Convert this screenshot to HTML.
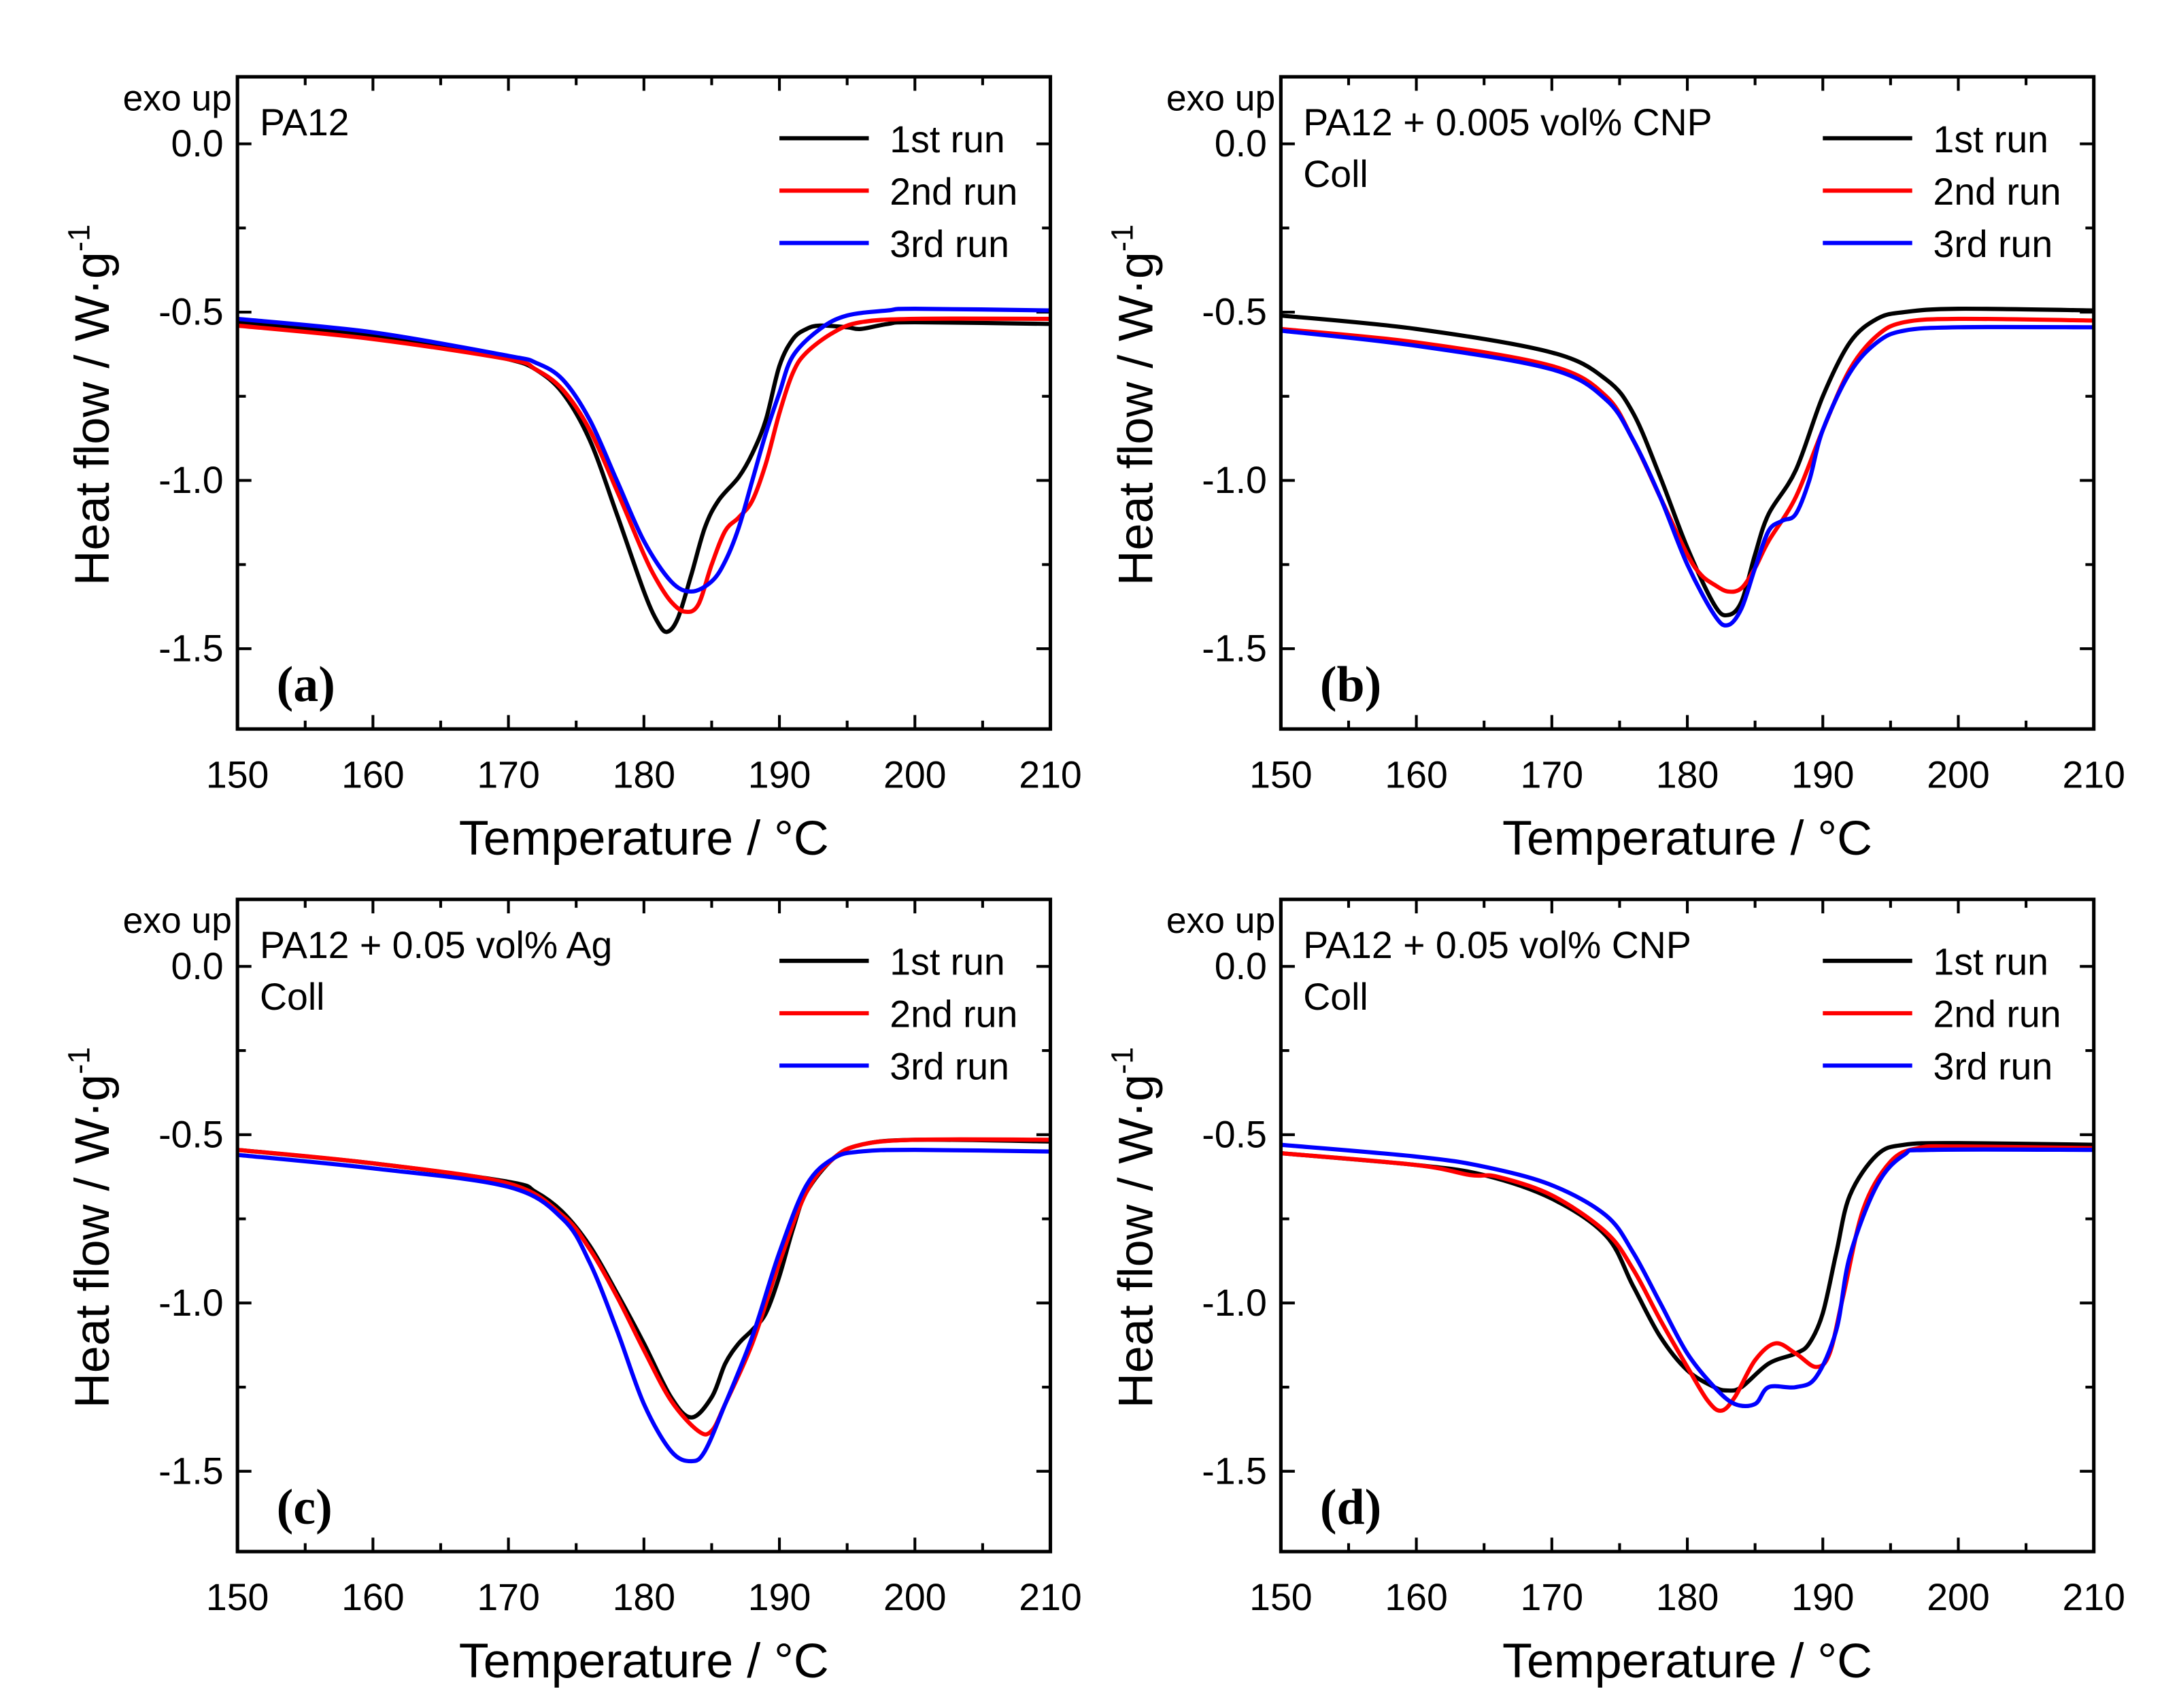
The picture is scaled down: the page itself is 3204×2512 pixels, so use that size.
<!DOCTYPE html>
<html><head><meta charset="utf-8"><style>
html,body{margin:0;padding:0;background:#fff}
svg{display:block}
text{font-family:"Liberation Sans",sans-serif;fill:#000}
</style></head><body>
<svg id="fig" width="3204" height="2512" viewBox="0 0 1560 1223" preserveAspectRatio="none" xmlns="http://www.w3.org/2000/svg"></svg>
<script>
const xTicks=[150,160,170,180,190,200,210];
const yTicks=[0.0,-0.5,-1.0,-1.5];
const yTickLabels=["0.0","-0.5","-1.0","-1.5"];
const runNames=["1st run","2nd run","3rd run"];
const runColors=["#000","#ff0000","#0000ff"];
const panelLetters=["a","b","c","d"];
const panelTitles=[["PA12"],["PA12 + 0.005 vol% CNP","Coll"],["PA12 + 0.05 vol% Ag","Coll"],["PA12 + 0.05 vol% CNP","Coll"]];
// panel a
const aT1=[150,160,165,170,172,174,176,178,180,181,181.7,182.5,183.5,184.5,185.5,187,188,189,190,191,192,193,195,196,198,200,210];
const aV1=[-0.53,-0.57,-0.6,-0.64,-0.67,-0.74,-0.88,-1.1,-1.33,-1.42,-1.45,-1.41,-1.28,-1.14,-1.06,-0.99,-0.92,-0.82,-0.66,-0.58,-0.55,-0.54,-0.545,-0.55,-0.535,-0.53,-0.535];
const aT2=[150,160,170,172,174,176,178,180,181,182,183,184,185,186,187,188,189,190,191,192,194,196,200,210];
const aV2=[-0.54,-0.58,-0.64,-0.67,-0.73,-0.85,-1.03,-1.22,-1.3,-1.36,-1.39,-1.37,-1.25,-1.15,-1.11,-1.06,-0.95,-0.8,-0.68,-0.62,-0.56,-0.53,-0.52,-0.52];
const aT3=[150,160,170,172,174,176,178,180,182,183.5,185,186,187,188,189,190,191,193,195,198,200,210];
const aV3=[-0.52,-0.56,-0.63,-0.65,-0.7,-0.82,-1.0,-1.18,-1.3,-1.33,-1.3,-1.24,-1.14,-1.0,-0.86,-0.74,-0.63,-0.55,-0.51,-0.495,-0.49,-0.495];
// panel b
const bT1=[150,160,170,174,176,178,180,182,183,184,185,186,188,190,192,194,196,200,210];
const bV1=[-0.51,-0.55,-0.62,-0.7,-0.8,-0.99,-1.2,-1.37,-1.4,-1.36,-1.22,-1.1,-0.97,-0.75,-0.59,-0.52,-0.5,-0.49,-0.495];
const bT2=[150,160,170,174,176,178,180,181,182,183,184,185,186,188,190,192,194,196,200,210];
const bV2=[-0.55,-0.59,-0.66,-0.75,-0.88,-1.05,-1.22,-1.28,-1.31,-1.33,-1.32,-1.26,-1.18,-1.05,-0.85,-0.67,-0.57,-0.53,-0.52,-0.525];
const bT3=[150,160,170,174,176,178,180,182,183,184,185,186,187,188,189,190,192,194,196,200,210];
const bV3=[-0.555,-0.6,-0.67,-0.76,-0.88,-1.05,-1.25,-1.4,-1.43,-1.38,-1.26,-1.15,-1.12,-1.1,-1.0,-0.85,-0.68,-0.59,-0.555,-0.545,-0.545];
// panel c
const cT1=[150,160,170,172,174,176,178,180,182,183.5,185,186,187,188,189,190,191,192,194,196,200,210];
const cV1=[-0.545,-0.585,-0.64,-0.67,-0.73,-0.83,-0.97,-1.12,-1.28,-1.34,-1.28,-1.18,-1.12,-1.08,-1.03,-0.92,-0.78,-0.67,-0.57,-0.53,-0.515,-0.52];
const cT2=[150,160,170,174,176,178,180,182,184,185,186,188,190,192,194,196,200,210];
const cV2=[-0.545,-0.585,-0.645,-0.74,-0.84,-0.98,-1.14,-1.29,-1.38,-1.38,-1.3,-1.12,-0.88,-0.67,-0.57,-0.53,-0.515,-0.515];
const cT3=[150,160,170,174,176,178,180,182,183.5,184.5,186,188,190,192,194,196,200,210];
const cV3=[-0.56,-0.6,-0.655,-0.75,-0.88,-1.08,-1.3,-1.44,-1.47,-1.44,-1.3,-1.1,-0.85,-0.65,-0.57,-0.55,-0.545,-0.55];
// panel d
const dT1=[150,160,165,170,174,176,178,180,182,183,184,186,188,189,190,191,192,194,196,200,210];
const dV1=[-0.555,-0.59,-0.62,-0.69,-0.8,-0.95,-1.1,-1.2,-1.25,-1.26,-1.25,-1.18,-1.15,-1.12,-1.03,-0.85,-0.68,-0.56,-0.53,-0.525,-0.53];
const dT2=[150,160,164,166,170,174,176,178,180,181.5,182.5,183.5,185,186.5,188,189.5,190.5,191.5,193,195,197,200,210];
const dV2=[-0.555,-0.59,-0.62,-0.625,-0.68,-0.79,-0.9,-1.05,-1.19,-1.29,-1.32,-1.28,-1.17,-1.12,-1.15,-1.19,-1.15,-0.98,-0.72,-0.58,-0.54,-0.535,-0.54];
const dT3=[150,160,165,170,174,176,178,180,182,183.5,185,186,188,189.5,191,192,194,196,198,210];
const dV3=[-0.53,-0.565,-0.595,-0.65,-0.74,-0.85,-1.0,-1.15,-1.25,-1.3,-1.3,-1.25,-1.25,-1.22,-1.08,-0.86,-0.65,-0.56,-0.545,-0.545];

const panelsT=[[aT1,aT2,aT3],[bT1,bT2,bT3],[cT1,cT2,cT3],[dT1,dT2,dT3]];
const panelsV=[[aV1,aV2,aV3],[bV1,bV2,bV3],[cV1,cV2,cV3],[dV1,dV2,dV3]];
const origins=[[170,55],[917,55],[170,644],[917,644]];

const NS="http://www.w3.org/2000/svg";
const svg=document.getElementById('fig');
function mk(tag,attrs,parent){const e=document.createElementNS(NS,tag);for(const k in attrs)e.setAttribute(k,attrs[k]);(parent||svg).appendChild(e);return e;}
function smooth(pts){let d="M"+pts[0][0].toFixed(2)+","+pts[0][1].toFixed(2);
 for(let i=0;i<pts.length-1;i++){const p0=pts[Math.max(0,i-1)],p1=pts[i],p2=pts[i+1],p3=pts[Math.min(pts.length-1,i+2)];
 const c1=[p1[0]+(p2[0]-p0[0])/6,p1[1]+(p2[1]-p0[1])/6],c2=[p2[0]-(p3[0]-p1[0])/6,p2[1]-(p3[1]-p1[1])/6];
 d+=" C"+c1[0].toFixed(2)+","+c1[1].toFixed(2)+" "+c2[0].toFixed(2)+","+c2[1].toFixed(2)+" "+p2[0].toFixed(2)+","+p2[1].toFixed(2);}
 return d;}

origins.forEach((o,pi)=>{
 const L=o[0],T=o[1],W=582,H=467;
 const xs=t=>L+(t-150)*W/60;
 const ys=v=>T+48+(-v)*241;
 const g=mk('g',{});
 
 
 const clip=mk('clipPath',{id:'clip'+pi},g);mk('rect',{x:L,y:T,width:W,height:H},clip);
 for(let t=150;t<=210;t+=5){const maj=(t%10===0);const len=maj?10:6;const x=xs(t);
  mk('line',{x1:x,y1:T+H,x2:x,y2:T+H-len,stroke:'#000','stroke-width':2},g);
  mk('line',{x1:x,y1:T,x2:x,y2:T+len,stroke:'#000','stroke-width':2},g);}
 for(let v=0.25;v>=-1.75;v-=0.25){const y=ys(v);if(y<T||y>T+H)continue;const maj=Math.abs(v*2-Math.round(v*2))<1e-6;const len=maj?10:6;
  mk('line',{x1:L,y1:y,x2:L+len,y2:y,stroke:'#000','stroke-width':2},g);
  mk('line',{x1:L+W,y1:y,x2:L+W-len,y2:y,stroke:'#000','stroke-width':2},g);}
 xTicks.forEach(t=>{const tx=mk('text',{x:xs(t),y:T+H+42,'text-anchor':'middle','font-size':27},g);tx.textContent=t;
  });
 yTicks.forEach((v,i)=>{const tx=mk('text',{x:L-10,y:ys(v)+9,'text-anchor':'end','font-size':27},g);tx.textContent=yTickLabels[i];
  });
 const xt=mk('text',{x:L+W/2,y:T+H+90,'text-anchor':'middle','font-size':35},g);xt.textContent="Temperature / °C";
 
 const yt=mk('text',{x:0,y:0,'text-anchor':'middle','font-size':35,transform:`translate(${L-92},${T+235}) rotate(-90)`},g);
 yt.innerHTML='Heat flow / W·g<tspan dy="-14" font-size="22">-1</tspan>';
 
 const ex=mk('text',{x:L-4,y:T+24,'text-anchor':'end','font-size':26},g);ex.textContent="exo up";
 
 panelTitles[pi].forEach((s,i)=>{const tx=mk('text',{x:L+16,y:T+42+i*37,'font-size':27},g);tx.textContent=s;
  });
 const pl=mk('text',{x:L+28,y:T+447,style:'font-family:"Liberation Serif",serif;font-weight:bold;font-size:36px'},g);pl.textContent="("+panelLetters[pi]+")";
 
 for(let s=0;s<3;s++){const Ts=panelsT[pi][s],Vs=panelsV[pi][s];
  const pts=Ts.map((t,i)=>[xs(t),ys(Vs[i])]);
  const p=mk('path',{d:smooth(pts),fill:'none',stroke:runColors[s],'stroke-width':3,'clip-path':`url(#clip${pi})`,'stroke-linejoin':'round'},g);
  }
 for(let s=0;s<3;s++){const y=T+44+s*37.5;
  const ln=mk('line',{x1:L+388,y1:y,x2:L+452,y2:y,stroke:runColors[s],'stroke-width':3},g);
  
  const tx=mk('text',{x:L+467,y:y+10,'font-size':27},g);tx.textContent=runNames[s];
  }
 const fr=mk('rect',{x:L,y:T,width:W,height:H,fill:'none',stroke:'#000','stroke-width':2.5},g);
 
});
</script>
</body></html>
